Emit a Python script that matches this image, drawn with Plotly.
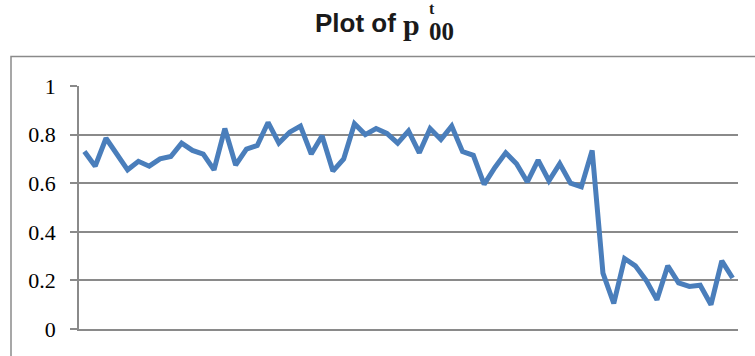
import plotly.graph_objects as go

# Time index and the estimated p00 value at each step
periods = list(range(1, 62))
p00 = [
    0.73, 0.67, 0.785, 0.72, 0.655, 0.69, 0.67, 0.70, 0.71, 0.765,
    0.735, 0.72, 0.655, 0.825, 0.675, 0.74, 0.755, 0.85, 0.765, 0.81,
    0.835, 0.72, 0.795, 0.65, 0.70, 0.845, 0.80, 0.825, 0.805, 0.765,
    0.815, 0.725, 0.825, 0.78, 0.835, 0.73, 0.715, 0.595, 0.665, 0.725,
    0.68, 0.605, 0.695, 0.61, 0.68, 0.60, 0.585, 0.735, 0.23, 0.105,
    0.29, 0.26, 0.20, 0.12, 0.26, 0.19, 0.175, 0.18, 0.10, 0.28,
    0.21,
]
y_ticks = [0, 0.2, 0.4, 0.6, 0.8, 1]
y_tick_labels = ["0", "0.2", "0.4", "0.6", "0.8", "1"]

W, H = 755, 356
ML, MR, MT, MB = 79, 17, 86, 27
PW, PH = W - ML - MR, H - MT - MB


def px(x):
    """pixel column -> paper x"""
    return (x - ML) / PW


def py(y):
    """pixel row -> paper y"""
    return (H - MB - y) / PH


GRID = "#8a8a8a"
SERIES = "#4a7ebb"
INK = "#1a1a1a"

fig = go.Figure()
fig.add_trace(
    go.Scatter(
        x=periods,
        y=p00,
        mode="lines",
        line=dict(color=SERIES, width=5),
        hoverinfo="skip",
        showlegend=False,
    )
)

fig.update_layout(
    width=W,
    height=H,
    margin=dict(l=ML, r=MR, t=MT, b=MB, pad=0),
    paper_bgcolor="white",
    plot_bgcolor="white",
    xaxis=dict(
        range=[0.5, len(periods) + 0.5],
        showgrid=False,
        zeroline=False,
        showticklabels=False,
        ticks="",
        showline=True,
        linecolor=GRID,
        linewidth=1.5,
    ),
    yaxis=dict(
        range=[0, 1],
        tickvals=y_ticks,
        ticktext=y_tick_labels,
        showgrid=True,
        gridcolor=GRID,
        gridwidth=1.5,
        zeroline=False,
        showline=True,
        linecolor=GRID,
        linewidth=1.5,
        ticks="outside",
        ticklen=7,
        tickwidth=1.5,
        tickcolor=GRID,
        ticklabelstandoff=10,
        tickfont=dict(family="Liberation Serif, Times New Roman, serif", size=22, color="black"),
    ),
    shapes=[
        # chart area border
        dict(
            type="rect",
            xref="paper",
            yref="paper",
            x0=px(11),
            x1=px(775),
            y0=py(380),
            y1=py(56.5),
            line=dict(color=GRID, width=1.5),
            layer="below",
        )
    ],
)

# Title: "Plot of p" followed by the stacked t / 00 indices
fig.add_annotation(
    text="<b>Plot of</b>", xref="paper", yref="paper",
    x=px(398), y=py(23), xanchor="right", yanchor="middle",
    showarrow=False, font=dict(family="Liberation Sans", size=26, color=INK),
)
fig.add_annotation(
    text="<b>p</b>", xref="paper", yref="paper",
    x=px(401), y=py(24), xanchor="left", yanchor="middle",
    showarrow=False, font=dict(family="Liberation Serif", size=30, color=INK),
)
fig.add_annotation(
    text="<b><span style='font-size:16px'>t</span><br><span style='font-size:25px'>00</span></b>",
    xref="paper", yref="paper",
    x=px(427), y=py(22), xanchor="left", yanchor="middle", align="left",
    showarrow=False, font=dict(family="Liberation Serif", size=20, color=INK),
)

fig.write_html("out.html")
